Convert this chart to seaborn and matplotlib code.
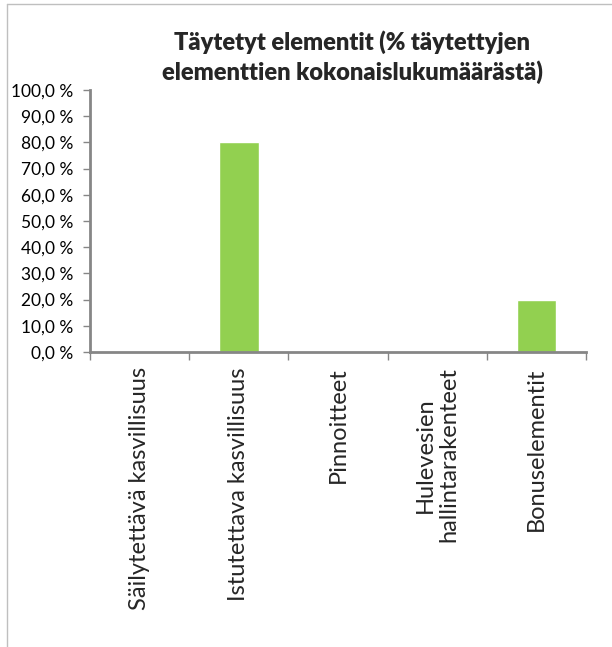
import matplotlib
matplotlib.use("Agg")
import matplotlib.pyplot as plt
import seaborn as sns
import pandas as pd
from matplotlib.ticker import FixedLocator, FuncFormatter
from matplotlib.lines import Line2D

# ------------------------------
# Data
# ------------------------------
categories = [
    "Säilytettävä kasvillisuus",
    "Istutettava kasvillisuus",
    "Pinnoitteet",
    "Hulevesien\nhallintarakenteet",
    "Bonuselementit",
]
values = [0.0, 80.0, 0.0, 0.0, 20.0]
title = "Täytetyt elementit (% täytettyjen\nelementtien kokonaislukumäärästä)"

df = pd.DataFrame({"category": categories, "value": values})

# ------------------------------
# Plot
# ------------------------------
sns.set_theme(style="white")
plt.rcParams["font.family"] = ["Lato", "DejaVu Sans"]

fig = plt.figure(figsize=(6.12, 6.47), dpi=100)
ax = fig.add_axes([90 / 612, 1 - 352 / 647, 496 / 612, 262 / 647])

sns.barplot(data=df, x="category", y="value", color="#92D050",
            width=0.4, saturation=1, ax=ax)

axis_gray = "#868686"
ax.set_ylim(0, 100)
ax.set_xlim(-0.5, len(categories) - 0.5)
ax.set_yticks(range(0, 101, 10))
ax.yaxis.set_major_formatter(FuncFormatter(lambda v, p: f"{v:.1f} %".replace(".", ",")))
ax.tick_params(axis="y", left=True, length=5, width=1, color=axis_gray,
               labelsize=12.5, labelcolor="black", pad=7)

# category boundaries as tick marks, labels at centers
ax.xaxis.set_minor_locator(FixedLocator([i - 0.5 for i in range(len(categories) + 1)]))
ax.tick_params(axis="x", which="minor", bottom=True, length=6, width=1, color=axis_gray)
ax.tick_params(axis="x", which="major", bottom=False, labelsize=17, pad=5)
for lbl in ax.get_xticklabels():
    lbl.set_rotation(90)
    lbl.set_multialignment("center")
    lbl.set_va("top")
    lbl.set_ha("center")
    lbl.set_linespacing(1.15)

for side in ["top", "right"]:
    ax.spines[side].set_visible(False)
for side in ["left", "bottom"]:
    ax.spines[side].set_color(axis_gray)
    ax.spines[side].set_linewidth(2)

ax.set_xlabel("")
ax.set_ylabel("")

fig.text(352 / 612, 1 - 57 / 647, title, ha="center", va="center",
         fontsize=17, fontweight="heavy", linespacing=1.35)

# chart-area frame (top and left edges visible)
frame_gray = "#BFBFBF"
fig.add_artist(Line2D([7 / 612, 1], [1 - 4 / 647, 1 - 4 / 647], color=frame_gray, lw=1))
fig.add_artist(Line2D([7 / 612, 7 / 612], [0, 1 - 4 / 647], color=frame_gray, lw=1))

fig.savefig("out.png", dpi=100)
